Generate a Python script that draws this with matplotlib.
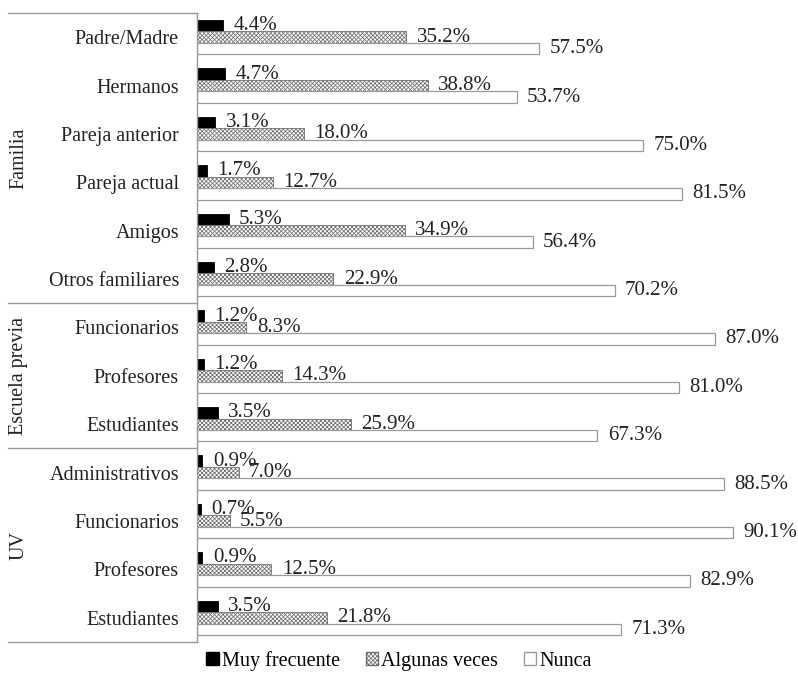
import matplotlib
matplotlib.use('Agg')
import matplotlib.pyplot as plt
from matplotlib.patches import Patch

plt.rcParams['font.family'] = ['Liberation Serif', 'DejaVu Serif']
plt.rcParams['hatch.linewidth'] = 0.55

# data, top to bottom
categories = ['Padre/Madre', 'Hermanos', 'Pareja anterior', 'Pareja actual', 'Amigos',
              'Otros familiares', 'Funcionarios', 'Profesores', 'Estudiantes',
              'Administrativos', 'Funcionarios', 'Profesores', 'Estudiantes']
muy_frecuente = [4.4, 4.7, 3.1, 1.7, 5.3, 2.8, 1.2, 1.2, 3.5, 0.9, 0.7, 0.9, 3.5]
algunas_veces = [35.2, 38.8, 18.0, 12.7, 34.9, 22.9, 8.3, 14.3, 25.9, 7.0, 5.5, 12.5, 21.8]
nunca = [57.5, 53.7, 75.0, 81.5, 56.4, 70.2, 87.0, 81.0, 67.3, 88.5, 90.1, 82.9, 71.3]
series_names = ['Muy frecuente', 'Algunas veces', 'Nunca']
groups = ['Familia', 'Escuela previa', 'UV']
group_sizes = [6, 3, 4]

fig = plt.figure(figsize=(7.98, 6.73), dpi=100)
ax = fig.add_axes([197 / 798, 1 - 642 / 673, 595 / 798, (642 - 13) / 673])

n = len(categories)
y = list(range(n))
h = 0.237
edge = '#9a9a9a'
hatch_col = '#6e6e6e'

ax.barh([v - h for v in y], muy_frecuente, height=h, color='black', edgecolor='black', lw=0.6)
ax.barh(y, algunas_veces, height=h, color='white', edgecolor=hatch_col, hatch='xxxxxxxx', lw=0.6)
ax.barh([v + h for v in y], nunca, height=h, color='white', edgecolor=edge, lw=0.9)

for i in range(n):
    for off, val in zip([-h, 0, h], [muy_frecuente[i], algunas_veces[i], nunca[i]]):
        ax.annotate(f'{val:.1f}%', (val, i + off), xytext=(7.5, 0), textcoords='offset points',
                    va='center', ha='left', fontsize=15, color='#222222')

ax.set_xlim(0, 100)
ax.set_ylim(n - 0.5, -0.5)
ax.set_yticks(y)
ax.set_yticklabels(categories, fontsize=14.5, color='#222222')
ax.tick_params(axis='y', length=0, pad=13)
ax.set_xticks([])
for s in ['top', 'right', 'bottom']:
    ax.spines[s].set_visible(False)
ax.spines['left'].set_color(edge)
ax.spines['left'].set_linewidth(1.0)

# group brackets on the left
trans = ax.get_yaxis_transform()
x0 = (8 - 197) / 595
bounds = [-0.5]
for g in group_sizes:
    bounds.append(bounds[-1] + g)
for b in bounds:
    ax.plot([x0, 0], [b, b], color=edge, lw=1.0, transform=trans, clip_on=False)
for name, a, b in zip(groups, bounds[:-1], bounds[1:]):
    ax.text((19 - 197) / 595, (a + b) / 2, name, rotation=90, ha='center', va='center',
            fontsize=14.5, color='#222222', transform=trans)

handles = [Patch(facecolor='black', edgecolor='black'),
           Patch(facecolor='white', edgecolor=hatch_col, hatch='xxxxxxxx'),
           Patch(facecolor='white', edgecolor=edge)]
fig.legend(handles, series_names, loc='center', bbox_to_anchor=(0.5, 1 - 661 / 673), ncol=3,
           frameon=False, fontsize=14.5, handlelength=0.6, handleheight=0.6, handletextpad=0.15,
           columnspacing=1.3, borderpad=0)

fig.savefig('out.png', dpi=100)
